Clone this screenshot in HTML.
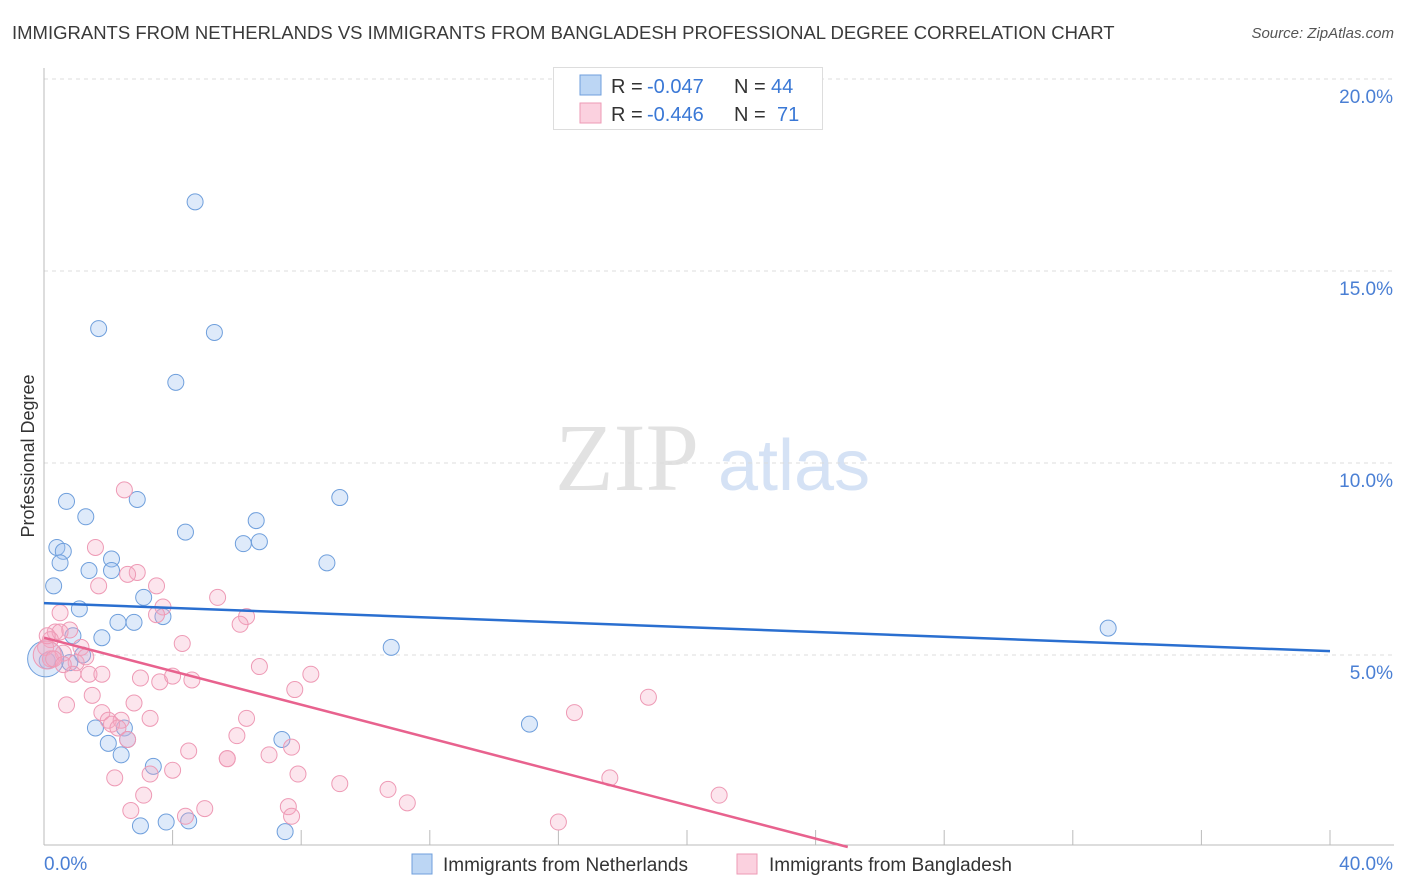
<!DOCTYPE html>
<html><head><meta charset="utf-8"><style>
body{margin:0;background:#fff;font-family:"Liberation Sans",sans-serif;}
#wrap{position:relative;width:1406px;height:892px;overflow:hidden;}
.t{position:absolute;white-space:nowrap;}
</style></head><body>
<div id="wrap">
<div class="t" style="left:12px;top:22px;font-size:18.5px;color:#3a3a3a;">IMMIGRANTS FROM NETHERLANDS VS IMMIGRANTS FROM BANGLADESH PROFESSIONAL DEGREE CORRELATION CHART</div>
<div class="t" style="right:12px;top:25px;font-size:15px;color:#555;font-style:italic;">Source: ZipAtlas.com</div>
<svg id="svg" width="1406" height="892" style="position:absolute;left:0;top:0"></svg>
</div>
<script>
const xTicks=[0,4,8,12,16,20,24,28,32,36,40];
const yTicks=[5,10,15,20];
const blueX=[4.7,1.7,5.3,4.1,0.7,2.9,1.3,4.4,6.6,9.2,0.4,0.6,6.2,6.7,2.1,0.5,1.4,2.1,8.8,0.3,3.1,1.1,3.7,2.3,2.8,1.8,0.9,1.2,0.8,0.1,10.8,33.1,15.1,1.6,2.5,2.0,2.6,2.4,3.4,7.4,3.0,3.8,4.5,7.5,0.05];
const blueY=[16.8,13.5,13.4,12.1,9.0,9.05,8.6,8.2,8.5,9.1,7.8,7.7,7.9,7.95,7.5,7.4,7.2,7.2,7.4,6.8,6.5,6.2,6.0,5.85,5.85,5.45,5.5,5.0,4.8,4.85,5.2,5.7,3.2,3.1,3.1,2.7,2.8,2.4,2.1,2.8,0.55,0.65,0.68,0.4,4.9];
const pinkX=[2.5,1.6,2.9,2.6,3.5,1.7,0.5,5.4,3.7,3.5,6.3,6.1,0.35,0.8,0.5,4.3,0.2,0.05,0.6,1.15,0.2,1.0,0.9,1.4,1.8,6.7,8.3,3.0,3.6,4.0,4.6,7.8,1.5,0.7,2.8,1.8,2.0,2.4,3.3,6.3,2.1,2.3,6.0,7.7,2.6,4.5,7.0,5.7,5.7,4.0,3.3,7.9,2.2,9.2,10.7,3.1,11.3,2.7,4.4,5.0,7.6,7.7,18.8,16.5,17.6,21.0,16.0,0.1,0.3,0.6,1.3,0.1];
const pinkY=[9.3,7.8,7.15,7.1,6.8,6.8,6.1,6.5,6.25,6.05,6.0,5.8,5.6,5.65,5.6,5.3,5.4,5.2,5.05,5.2,4.9,4.8,4.5,4.5,4.5,4.7,4.5,4.4,4.3,4.45,4.35,4.1,3.95,3.7,3.75,3.5,3.3,3.3,3.35,3.35,3.2,3.1,2.9,2.6,2.8,2.5,2.4,2.3,2.3,2.0,1.9,1.9,1.8,1.65,1.5,1.35,1.15,0.95,0.8,1.0,1.05,0.8,3.9,3.5,1.8,1.35,0.65,5.0,4.9,4.75,4.95,5.5];
const pinkBig=[0,0,0,0,0,0,0,0,0,0,0,0,0,0,0,0,0,0,0,0,0,0,0,0,0,0,0,0,0,0,0,0,0,0,0,0,0,0,0,0,0,0,0,0,0,0,0,0,0,0,0,0,0,0,0,0,0,0,0,0,0,0,0,0,0,0,0,1,0,0,0,0];
const blueLine=[6.35,5.1];
const pinkLine=[5.45,0];
const pinkLineEndX=25;

const X=v=>44+v*32.15, Y=v=>847-v*38.4;
const svg=document.getElementById('svg');const NS='http://www.w3.org/2000/svg';
function el(t,a,name){const e=document.createElementNS(NS,t);for(const k in a)e.setAttribute(k,a[k]);


svg.appendChild(e);return e;}
let wm=el('text',{x:555,y:490,'font-size':96,'font-family':'Liberation Serif,serif',fill:'#e2e2e2'},'watermark-zip');wm.textContent='ZIP';
let wm2=el('text',{x:718,y:490,'font-size':72,'font-family':'Liberation Sans,sans-serif',fill:'#d5e2f5'},'watermark-atlas');wm2.textContent='atlas';
yTicks.forEach(v=>{el('line',{x1:44,x2:1394,y1:Y(v),y2:Y(v),stroke:'#dcdcdc','stroke-dasharray':'4,4'},'gridline');
let t=el('text',{x:1393,y:Y(v)+24,'text-anchor':'end','font-size':19,fill:'#4a7fd4'},'y-tick-label');t.textContent=v.toFixed(1)+'%';});
el('line',{x1:44,x2:44,y1:68,y2:845,stroke:'#bbb'},'y-axis-line');
el('line',{x1:44,x2:1394,y1:845,y2:845,stroke:'#bbb'},'x-axis-line');
xTicks.forEach(v=>el('line',{x1:X(v),x2:X(v),y1:830,y2:845,stroke:'#bbb'},'x-tick'));
[[0,'0.0%','start',44],[40,'40.0%','end',1393]].forEach(a=>{let t=el('text',{x:a[3],y:870,'text-anchor':a[2],'font-size':19,fill:'#4a7fd4'},'x-tick-label');t.textContent=a[1];});
let yt=el('text',{x:34,y:456,'text-anchor':'middle','font-size':18,fill:'#333',transform:'rotate(-90 34 456)'},'y-axis-title');yt.textContent='Professional Degree';
blueX.forEach((v,i)=>el('circle',{cx:X(v),cy:Y(blueY[i]),r:i==44?18:8,fill:'rgba(160,196,240,0.35)',stroke:'#6f9fdc','stroke-width':1},'blue-point'));
pinkX.forEach((v,i)=>el('circle',{cx:X(v),cy:Y(pinkY[i]),r:pinkBig[i]?14:8,fill:'rgba(245,170,195,0.3)',stroke:'#ee9ab5','stroke-width':1},'pink-point'));
el('line',{x1:X(0),y1:Y(blueLine[0]),x2:X(40),y2:Y(blueLine[1]),stroke:'#2a6fd0','stroke-width':2.5},'blue-trend-line');
el('line',{x1:X(0),y1:Y(pinkLine[0]),x2:X(pinkLineEndX),y2:Y(pinkLine[1]),stroke:'#e8628e','stroke-width':2.5},'pink-trend-line');
el('rect',{x:553.5,y:67.5,width:269,height:62,fill:'#fff',stroke:'#ddd'},'legend-box');
[['rgba(160,196,240,0.7)','#6f9fdc','-0.047','44',85,771],['rgba(250,190,210,0.7)','#ee9ab5','-0.446','71',113,777]].forEach(r=>{
el('rect',{x:580,y:r[4]-10,width:21,height:20,fill:r[0],stroke:r[1]},'legend-swatch');
let a=el('text',{x:611,y:r[4]+8,'font-size':20,fill:'#333'},'legend-r-label');a.textContent='R =';
let b=el('text',{x:647,y:r[4]+8,'font-size':20,fill:'#3a78d6'},'legend-r-value');b.textContent=r[2];
let c=el('text',{x:734,y:r[4]+8,'font-size':20,fill:'#333'},'legend-n-label');c.textContent='N =';
let d=el('text',{x:r[5],y:r[4]+8,'font-size':20,fill:'#3a78d6'},'legend-n-value');d.textContent=r[3];});
el('rect',{x:412,y:854,width:20,height:20,fill:'rgba(160,196,240,0.7)',stroke:'#6f9fdc'},'legend-swatch-netherlands');
let l1=el('text',{x:443,y:871,'font-size':19,fill:'#333'},'legend-label-netherlands');l1.textContent='Immigrants from Netherlands';
el('rect',{x:737,y:854,width:20,height:20,fill:'rgba(250,190,210,0.7)',stroke:'#ee9ab5'},'legend-swatch-bangladesh');
let l2=el('text',{x:769,y:871,'font-size':19,fill:'#333'},'legend-label-bangladesh');l2.textContent='Immigrants from Bangladesh';
</script>
</body></html>
